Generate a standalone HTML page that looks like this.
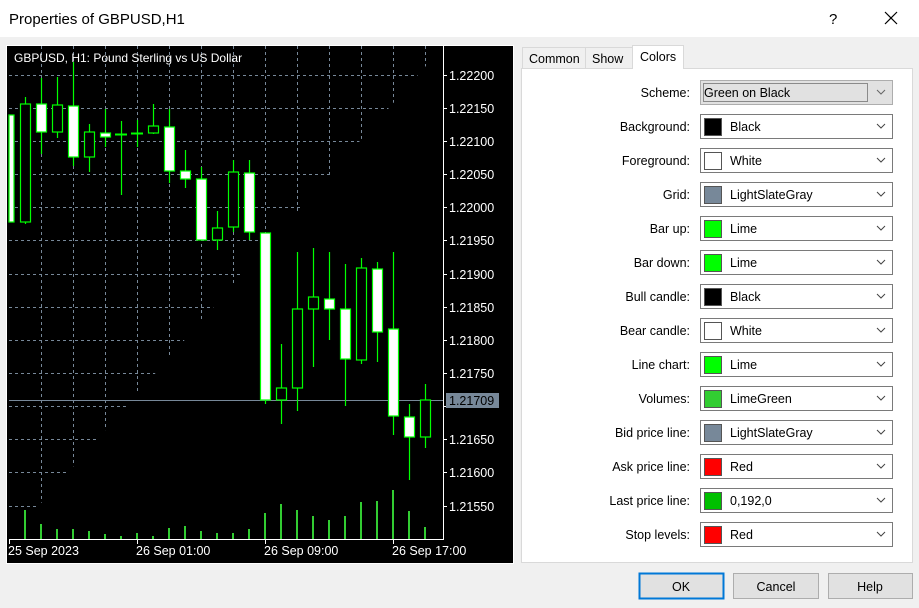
<!DOCTYPE html>
<html><head><meta charset="utf-8"><style>
body{margin:0;width:919px;height:608px;overflow:hidden;background:#f0f0f0;font-family:"Liberation Sans",sans-serif;position:relative}
svg{position:absolute;left:0;top:0}
#chart{position:absolute;left:7px;top:46px;width:506px;height:517px;background:#000}
.v{position:absolute;top:46px;width:1px;height:493px;background:repeating-linear-gradient(to bottom,#778899 0 3px,transparent 3px 6px)}
.h{position:absolute;left:9px;width:434px;height:1px;background:repeating-linear-gradient(to right,#778899 0 3px,transparent 3px 6px)}
</style></head><body>
<div id="chart"></div>
<div class="v" style="left:41px"></div><div class="v" style="left:73px"></div><div class="v" style="left:105px"></div><div class="v" style="left:137px"></div><div class="v" style="left:169px"></div><div class="v" style="left:201px"></div><div class="v" style="left:233px"></div><div class="v" style="left:265px"></div><div class="v" style="left:297px"></div><div class="v" style="left:329px"></div><div class="v" style="left:361px"></div><div class="v" style="left:393px"></div><div class="v" style="left:425px"></div>
<div class="h" style="top:75px"></div><div class="h" style="top:108px"></div><div class="h" style="top:141px"></div><div class="h" style="top:174px"></div><div class="h" style="top:207px"></div><div class="h" style="top:240px"></div><div class="h" style="top:274px"></div><div class="h" style="top:307px"></div><div class="h" style="top:340px"></div><div class="h" style="top:373px"></div><div class="h" style="top:406px"></div><div class="h" style="top:439px"></div><div class="h" style="top:472px"></div><div class="h" style="top:506px"></div>
<svg width="919" height="608" xmlns="http://www.w3.org/2000/svg" font-family="Liberation Sans, sans-serif">
<rect x="0" y="0" width="919" height="37" fill="#fff"/>
<text x="9" y="24" font-size="15" fill="#000">Properties of GBPUSD,H1</text>
<text x="829" y="24" font-size="15" fill="#000">?</text>
<path d="M885 12l12 12M897 12l-12 12" stroke="#000" stroke-width="1.2"/>
<rect x="6.5" y="45.5" width="507" height="518" fill="none" stroke="#fff"/>
<text x="14" y="62" font-size="12" fill="#fff">GBPUSD, H1:  Pound Sterling vs US Dollar</text>
<g fill="#fff" font-size="12.5">
<text x="449" y="80">1.22200</text><text x="449" y="113">1.22150</text><text x="449" y="146">1.22100</text>
<text x="449" y="179">1.22050</text><text x="449" y="212">1.22000</text><text x="449" y="245">1.21950</text>
<text x="449" y="279">1.21900</text><text x="449" y="312">1.21850</text><text x="449" y="345">1.21800</text>
<text x="449" y="378">1.21750</text><text x="449" y="444">1.21650</text>
<text x="449" y="477">1.21600</text><text x="449" y="511">1.21550</text>
</g>
<g stroke="#fff" stroke-width="1"><path d="M443.5 46V539.5H9M443 75.5h4M443 108.5h4M443 141.5h4M443 174.5h4M443 207.5h4M443 240.5h4M443 274.5h4M443 307.5h4M443 340.5h4M443 373.5h4M443 406.5h4M443 439.5h4M443 472.5h4M443 506.5h4M9.5 539v5M137.5 539v5M265.5 539v5M393.5 539v5"/></g>
<g fill="#fff" font-size="12.5"><text x="8" y="555">25 Sep 2023</text><text x="136" y="555">26 Sep 01:00</text><text x="264" y="555">26 Sep 09:00</text><text x="392" y="555">26 Sep 17:00</text></g>
<path d="M9 400.5H443" stroke="#778899"/>
<rect x="446" y="393" width="53" height="15" fill="#778899"/>
<text x="449" y="405" font-size="12.5" fill="#000">1.21709</text>
<g stroke="#32cd32" stroke-width="2">
<path d="M25 539V510M41 539V524M57 539V529M73 539V529M89 539V531M105 539V534M121 539V536M137 539V533M153 539V536M169 539V528M185 539V526M201 539V531M217 539V533M233 539V533M249 539V529M265 539V513M281 539V504M297 539V510M313 539V516M329 539V520M345 539V516M361 539V502M377 539V501M393 539V490M409 539V511M425 539V527"/>
</g>
<g stroke="#00ff00" stroke-width="1.2">
<path d="M25.5 97V224M41.5 78V154M57.5 77V138M73.5 62V166M89.5 124V172M105.5 109V147M121.5 121V195M137.5 120V147M153.5 104V134M169.5 109V183M185.5 150V188M201.5 167V240M217.5 211V250M233.5 160V232M249.5 160V240M265.5 233V404M281.5 344V424M297.5 252V411M313.5 248V367M329.5 252V340M345.5 264V406M361.5 258V364M377.5 262V362M393.5 252V435M409.5 404V480M425.5 384V448"/>
<path d="M115 134.5h12M131 133.5h12" stroke-width="2"/>
</g>
<g stroke="#00ff00" stroke-width="1.2">
<rect x="9" y="115" width="5" height="107" fill="#fff"/>
<rect x="20.5" y="104" width="10" height="118" fill="#000"/>
<rect x="36.5" y="104" width="10" height="28" fill="#fff"/>
<rect x="52.5" y="105" width="10" height="27" fill="#000"/>
<rect x="68.5" y="106" width="10" height="51" fill="#fff"/>
<rect x="84.5" y="132" width="10" height="25" fill="#000"/>
<rect x="100.5" y="133" width="10" height="4" fill="#fff"/>
<rect x="148.5" y="126" width="10" height="7" fill="#000"/>
<rect x="164.5" y="127" width="10" height="44" fill="#fff"/>
<rect x="180.5" y="171" width="10" height="8" fill="#fff"/>
<rect x="196.5" y="179" width="10" height="61" fill="#fff"/>
<rect x="212.5" y="228" width="10" height="12" fill="#000"/>
<rect x="228.5" y="172" width="10" height="55" fill="#000"/>
<rect x="244.5" y="173" width="10" height="59" fill="#fff"/>
<rect x="260.5" y="233" width="10" height="167" fill="#fff"/>
<rect x="276.5" y="388" width="10" height="12" fill="#000"/>
<rect x="292.5" y="309" width="10" height="79" fill="#000"/>
<rect x="308.5" y="297" width="10" height="12" fill="#000"/>
<rect x="324.5" y="299" width="10" height="10" fill="#fff"/>
<rect x="340.5" y="309" width="10" height="50" fill="#fff"/>
<rect x="356.5" y="268" width="10" height="92" fill="#000"/>
<rect x="372.5" y="269" width="10" height="63" fill="#fff"/>
<rect x="388.5" y="329" width="10" height="87" fill="#fff"/>
<rect x="404.5" y="417" width="10" height="20" fill="#fff"/>
<rect x="420.5" y="400" width="10" height="37" fill="#000"/>
</g>
<rect x="521.5" y="68.5" width="391" height="494" fill="#fff" stroke="#d9d9d9"/>
<rect x="522.5" y="47.5" width="63" height="21" fill="#f0f0f0" stroke="#d9d9d9"/>
<rect x="585.5" y="47.5" width="47" height="21" fill="#f0f0f0" stroke="#d9d9d9"/>
<rect x="632.5" y="45.5" width="51" height="23" fill="#fff" stroke="#d9d9d9"/>
<rect x="633" y="67" width="50" height="3" fill="#fff"/>
<g font-size="12.5" fill="#000"><text x="529" y="63">Common</text><text x="592" y="63">Show</text><text x="640" y="61">Colors</text></g>
<rect x="700.5" y="80.5" width="192" height="24" fill="#e1e1e1" stroke="#adadad"/>
<rect x="703.5" y="83.5" width="164" height="18" fill="none" stroke="#333" stroke-dasharray="1,1"/>
<text x="704" y="97" font-size="12.5">Green on Black</text>
<path d="M877 90l4 4 4-4" fill="none" stroke="#666"/>
<g font-size="12.5" text-anchor="end">
<text x="690" y="97">Scheme:</text><text x="690" y="131">Background:</text><text x="690" y="165">Foreground:</text>
<text x="690" y="199">Grid:</text><text x="690" y="233">Bar up:</text><text x="690" y="267">Bar down:</text>
<text x="690" y="301">Bull candle:</text><text x="690" y="335">Bear candle:</text><text x="690" y="369">Line chart:</text>
<text x="690" y="403">Volumes:</text><text x="690" y="437">Bid price line:</text><text x="690" y="471">Ask price line:</text>
<text x="690" y="505">Last price line:</text><text x="690" y="539">Stop levels:</text>
</g>
<g font-size="12.5">
<g transform="translate(0,34)"><rect x="700.5" y="80.5" width="192" height="24" fill="#fff" stroke="#7a7a7a"/><rect x="704.5" y="84.5" width="17" height="17" fill="#000" stroke="#555"/><text x="730" y="97">Black</text><path d="M877 90l4 4 4-4" fill="none" stroke="#444"/></g>
<g transform="translate(0,68)"><rect x="700.5" y="80.5" width="192" height="24" fill="#fff" stroke="#7a7a7a"/><rect x="704.5" y="84.5" width="17" height="17" fill="#fff" stroke="#555"/><text x="730" y="97">White</text><path d="M877 90l4 4 4-4" fill="none" stroke="#444"/></g>
<g transform="translate(0,102)"><rect x="700.5" y="80.5" width="192" height="24" fill="#fff" stroke="#7a7a7a"/><rect x="704.5" y="84.5" width="17" height="17" fill="#778899" stroke="#555"/><text x="730" y="97">LightSlateGray</text><path d="M877 90l4 4 4-4" fill="none" stroke="#444"/></g>
<g transform="translate(0,136)"><rect x="700.5" y="80.5" width="192" height="24" fill="#fff" stroke="#7a7a7a"/><rect x="704.5" y="84.5" width="17" height="17" fill="#00ff00" stroke="#555"/><text x="730" y="97">Lime</text><path d="M877 90l4 4 4-4" fill="none" stroke="#444"/></g>
<g transform="translate(0,170)"><rect x="700.5" y="80.5" width="192" height="24" fill="#fff" stroke="#7a7a7a"/><rect x="704.5" y="84.5" width="17" height="17" fill="#00ff00" stroke="#555"/><text x="730" y="97">Lime</text><path d="M877 90l4 4 4-4" fill="none" stroke="#444"/></g>
<g transform="translate(0,204)"><rect x="700.5" y="80.5" width="192" height="24" fill="#fff" stroke="#7a7a7a"/><rect x="704.5" y="84.5" width="17" height="17" fill="#000" stroke="#555"/><text x="730" y="97">Black</text><path d="M877 90l4 4 4-4" fill="none" stroke="#444"/></g>
<g transform="translate(0,238)"><rect x="700.5" y="80.5" width="192" height="24" fill="#fff" stroke="#7a7a7a"/><rect x="704.5" y="84.5" width="17" height="17" fill="#fff" stroke="#555"/><text x="730" y="97">White</text><path d="M877 90l4 4 4-4" fill="none" stroke="#444"/></g>
<g transform="translate(0,272)"><rect x="700.5" y="80.5" width="192" height="24" fill="#fff" stroke="#7a7a7a"/><rect x="704.5" y="84.5" width="17" height="17" fill="#00ff00" stroke="#555"/><text x="730" y="97">Lime</text><path d="M877 90l4 4 4-4" fill="none" stroke="#444"/></g>
<g transform="translate(0,306)"><rect x="700.5" y="80.5" width="192" height="24" fill="#fff" stroke="#7a7a7a"/><rect x="704.5" y="84.5" width="17" height="17" fill="#32cd32" stroke="#555"/><text x="730" y="97">LimeGreen</text><path d="M877 90l4 4 4-4" fill="none" stroke="#444"/></g>
<g transform="translate(0,340)"><rect x="700.5" y="80.5" width="192" height="24" fill="#fff" stroke="#7a7a7a"/><rect x="704.5" y="84.5" width="17" height="17" fill="#778899" stroke="#555"/><text x="730" y="97">LightSlateGray</text><path d="M877 90l4 4 4-4" fill="none" stroke="#444"/></g>
<g transform="translate(0,374)"><rect x="700.5" y="80.5" width="192" height="24" fill="#fff" stroke="#7a7a7a"/><rect x="704.5" y="84.5" width="17" height="17" fill="#ff0000" stroke="#555"/><text x="730" y="97">Red</text><path d="M877 90l4 4 4-4" fill="none" stroke="#444"/></g>
<g transform="translate(0,408)"><rect x="700.5" y="80.5" width="192" height="24" fill="#fff" stroke="#7a7a7a"/><rect x="704.5" y="84.5" width="17" height="17" fill="#00c000" stroke="#555"/><text x="730" y="97">0,192,0</text><path d="M877 90l4 4 4-4" fill="none" stroke="#444"/></g>
<g transform="translate(0,442)"><rect x="700.5" y="80.5" width="192" height="24" fill="#fff" stroke="#7a7a7a"/><rect x="704.5" y="84.5" width="17" height="17" fill="#ff0000" stroke="#555"/><text x="730" y="97">Red</text><path d="M877 90l4 4 4-4" fill="none" stroke="#444"/></g>
</g>
<rect x="639.5" y="573.5" width="84" height="25" fill="#e1e1e1" stroke="#0078d7" stroke-width="2"/>
<rect x="733.5" y="573.5" width="85" height="25" fill="#e1e1e1" stroke="#adadad"/>
<rect x="828.5" y="573.5" width="84" height="25" fill="#e1e1e1" stroke="#adadad"/>
<g font-size="12.5" text-anchor="middle"><text x="681" y="591">OK</text><text x="776" y="591">Cancel</text><text x="870" y="591">Help</text></g>
</svg>
</body></html>
